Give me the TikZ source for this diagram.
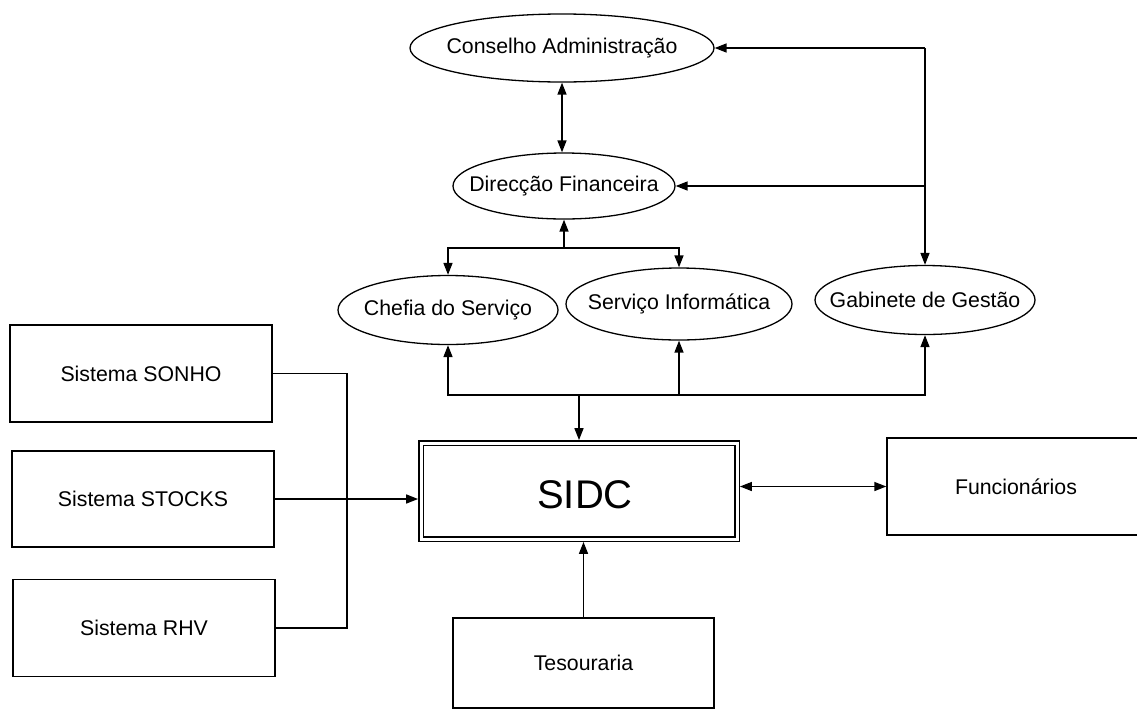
\documentclass[tikz,border=0pt]{standalone}
\usepackage{fontspec}
\setmainfont{Liberation Sans}
\usetikzlibrary{shapes.geometric,arrows.meta}
\begin{document}
\begin{tikzpicture}[x=1pt,y=-1pt,
  every node/.style={font=\fontsize{21.3}{25}\selectfont},
  oval/.style n args={2}{ellipse,draw,line width=1.3pt,inner sep=0pt,
    minimum width=#1,minimum height=#2},
  box/.style n args={2}{rectangle,draw,line width=1.4pt,inner sep=0pt,
    minimum width=#1,minimum height=#2},
  sidcbox/.style={rectangle,draw,line width=1.4pt,double,double distance=3pt,
    inner sep=0pt,outer sep=2.9pt,minimum width=316pt,minimum height=96pt},
  link/.style={line width=1.5pt},
  tip/.tip={Triangle[length=12pt,width=9pt]},
  arr/.style={link,-tip},
  both/.style={link,tip-tip}]

\useasboundingbox (0,0) rectangle (1137,710);
\fill[white] (0,0) rectangle (1137,710);
\clip (0,0) rectangle (1137,710);

% management units
\node[oval={304pt}{68pt}] (cons)   at (562,48)  {\makebox[0pt]{Conselho Administração}};
\node[oval={222pt}{66pt}] (dir)    at (564,186) {\makebox[0pt]{Direcção Financeira}};
\node[oval={220pt}{69pt}] (chefia) at (448,310) {\makebox[0pt]{Chefia do Serviço}};
\node[oval={226pt}{72pt}] (si)     at (679,304) {\makebox[0pt]{Serviço Informática}};
\node[oval={220pt}{69pt}] (gab)    at (925,300) {\makebox[0pt]{Gabinete de Gestão}};

% source systems
\node[box={262pt}{97pt}] (sonho)  at (141,373.5) {Sistema SONHO};
\node[box={262pt}{96pt}] (stocks) at (143,499)   {Sistema STOCKS};
\node[box={262pt}{97pt}] (rhv)    at (144,628)   {Sistema RHV};

% central system
\node[sidcbox] (sidc) at (579,491) {};
\node (sidctext) at (585,495) {\fontsize{40}{44}\selectfont SIDC};

\node[box={258pt}{97pt}] (func) at (1016,486.5) {Funcionários};
\node[box={261pt}{90pt}] (tes)  at (583.5,663)  {Tesouraria};

% junction points
\coordinate (jtop)  at (cons.east -| gab.north);
\coordinate (jdir)  at (564,248);
\coordinate (jbus)  at (579,395);
\coordinate (jleft) at (347,499);

% top hierarchy
\draw[both] (cons.south) -- (cons.south |- dir.north);
\draw[arr] (jtop) -- (cons.east);
\draw[arr] (jtop) -- (gab.north);
\draw[arr] (dir.east -| gab.north) -- (dir.east);
\draw[arr] (jdir) -- (dir.south);
\draw[arr] (jdir) -| (chefia.north);
\draw[arr] (jdir) -| (si.north);

% bus from SIDC to the units
\draw[arr] (jbus) -- (sidc.north);
\draw[arr] (jbus) -| (chefia.south);
\draw[arr] (jbus) -| (si.south);
\draw[arr] (jbus) -| (gab.south);

% source systems feeding SIDC
\draw[link] (sonho.east) -| (jleft);
\draw[link] (rhv.east) -| (jleft);
\draw[arr] (stocks.east) -- (stocks.east -| sidc.west);

% other links
\draw[both] (func.west -| sidc.east) -- (func.west);
\draw[arr] (tes.north) -- (tes.north |- sidc.south);
\end{tikzpicture}
\end{document}
